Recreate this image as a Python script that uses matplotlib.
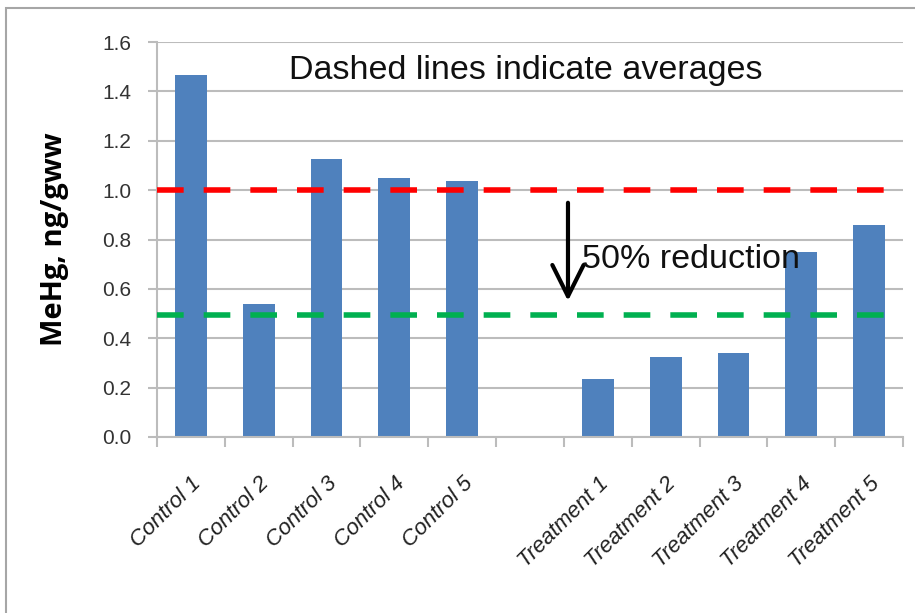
import numpy as np
import matplotlib
matplotlib.use("Agg")
import matplotlib.pyplot as plt
from matplotlib.patches import Rectangle

control_labels = ["Control 1", "Control 2", "Control 3", "Control 4", "Control 5"]
control_vals = [1.465, 0.54, 1.125, 1.05, 1.035]
treatment_labels = ["Treatment 1", "Treatment 2", "Treatment 3", "Treatment 4", "Treatment 5"]
treatment_vals = [0.235, 0.325, 0.34, 0.75, 0.86]
control_avg = 1.0
treatment_avg = 0.495
yticks = [0.0, 0.2, 0.4, 0.6, 0.8, 1.0, 1.2, 1.4, 1.6]

# one empty slot between the two groups
labels = control_labels + [""] + treatment_labels
values = control_vals + [np.nan] + treatment_vals
x = np.arange(len(labels))

plt.rcParams["font.family"] = ["Liberation Sans", "DejaVu Sans"]

fig = plt.figure(figsize=(9.15, 6.13), dpi=100)
fig.patches.append(Rectangle((6 / 915, -0.1), 1.2, 1 - 8 / 613 + 0.1,
                             transform=fig.transFigure, fill=False,
                             edgecolor="#a6a6a6", linewidth=1.5))
ax = fig.add_axes([157 / 915, 1 - 437 / 613, (903 - 157) / 915, (437 - 42) / 613])

grid_c = "#bcbcbc"
ax.set_axisbelow(True)
ax.yaxis.grid(True, color=grid_c, linewidth=1.5)
ax.bar(x, values, width=0.47, color="#4F81BD", zorder=2)

ax.axhline(control_avg, color="#FF0000", linewidth=4, dashes=(4.8, 3.6), zorder=3)
ax.axhline(treatment_avg, color="#00B050", linewidth=4, dashes=(4.8, 3.6), zorder=3)

ax.set_xlim(-0.5, len(labels) - 0.5)
ax.set_ylim(0, 1.6)
ax.set_yticks(yticks)
ax.set_yticklabels([f"{v:.1f}" for v in yticks], fontsize=15, color="#333333")

ax.set_xticks(np.arange(len(labels) + 1) - 0.5)
ax.set_xticklabels([])
ax.set_xticks(x, minor=True)
ax.set_xticklabels(labels, minor=True, rotation=45, ha="right", rotation_mode="anchor",
                   fontsize=16, style="italic", color="#202020")
ax.tick_params(axis="x", which="minor", length=0, pad=26)
ax.tick_params(axis="x", which="major", length=7, color=grid_c, width=1.5)
ax.tick_params(axis="y", length=6.5, color=grid_c, width=1.5, pad=12)

for s in ["top", "right"]:
    ax.spines[s].set_visible(False)
for s in ["left", "bottom"]:
    ax.spines[s].set_color(grid_c)
    ax.spines[s].set_linewidth(1.5)

ax.set_ylabel("MeHg, ng/gww", fontsize=21, fontweight="bold",
              family=["Open Sans", "DejaVu Sans"], labelpad=24)

ax.text(4.93, 1.485, "Dashed lines indicate averages",
        fontsize=24.5, ha="center", va="center", color="#101010")
ax.annotate("", xy=(5.56, 0.54), xytext=(5.56, 0.96),
            arrowprops=dict(arrowstyle="->, head_length=0.9, head_width=0.45",
                            color="black", lw=3, mutation_scale=25))
ax.text(5.77, 0.72, "50% reduction", fontsize=24.5, ha="left", va="center",
        color="#101010", zorder=4)

plt.savefig("out.png", dpi=100)
plt.close()
